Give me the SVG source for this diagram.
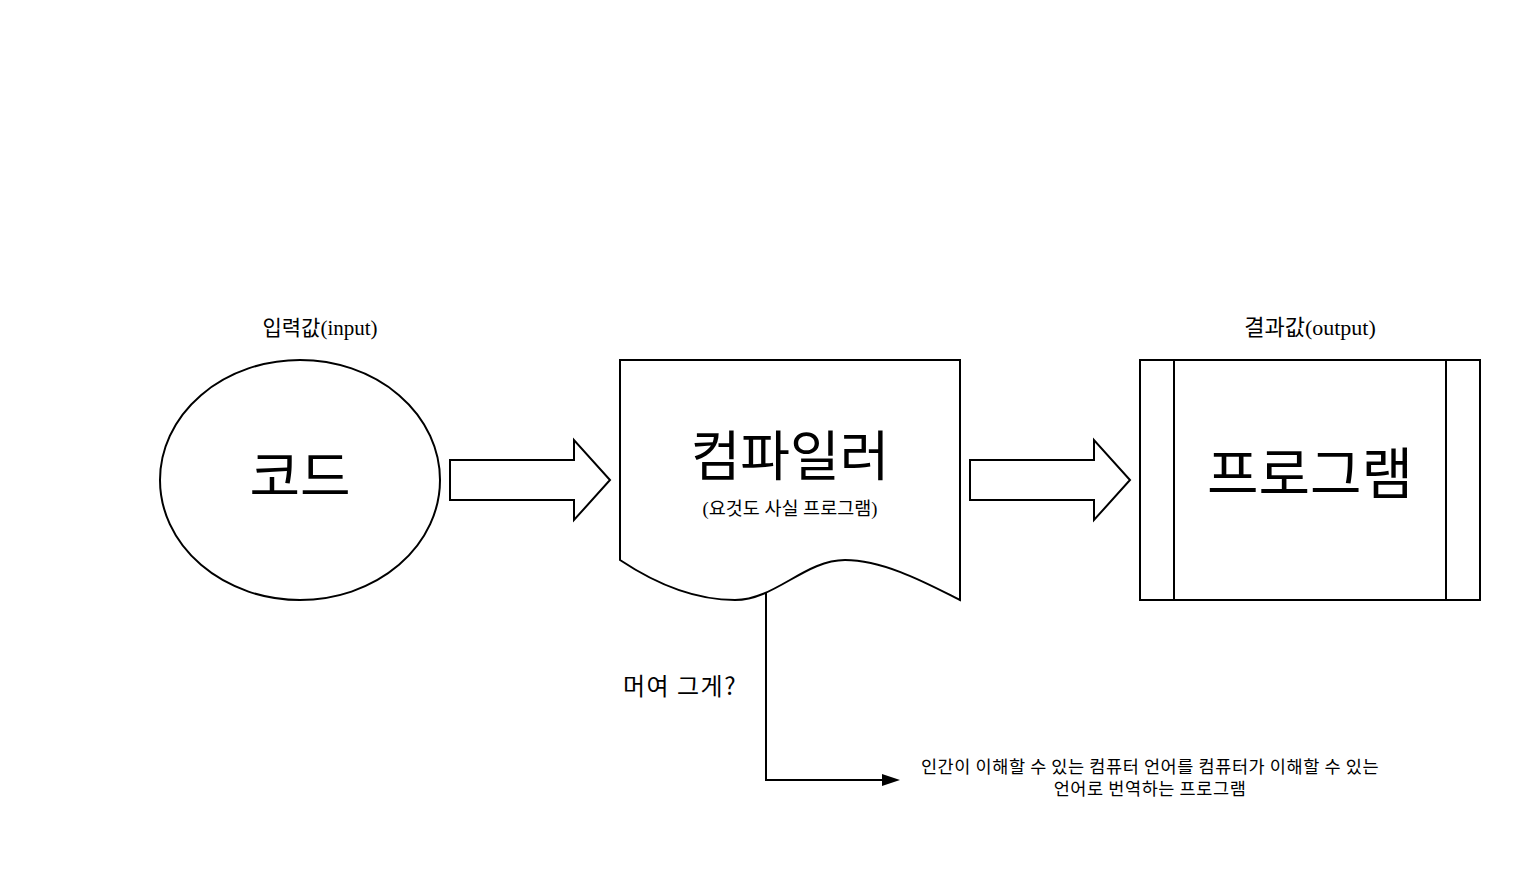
<svg xmlns="http://www.w3.org/2000/svg" width="1520" height="880" viewBox="0 0 1520 880">
<defs>
<style>
.s{fill:#fff;stroke:#000;stroke-width:2}
.ln{fill:none;stroke:#000;stroke-width:2}
.serif{font-family:"Liberation Serif","Noto Sans CJK KR",serif;fill:#000;text-anchor:middle}
.sans{font-family:"Noto Sans CJK KR","Liberation Sans",sans-serif;fill:#000;text-anchor:middle}
</style>
</defs>
<rect width="1520" height="880" fill="#fff"/>
<g id="code">
<ellipse class="s" cx="300" cy="480" rx="140" ry="120"/>
<text class="serif" x="300" y="496" font-size="55">코드</text>
</g>
<g id="input-label"><text class="serif" x="320" y="335" font-size="21">입력값(input)</text></g>
<g id="compiler">
<path class="s" d="M620,360 L960,360 L960,600 C930,585 885,560 845,560 C805,560 775,600 735,600 C690,600 650,580 620,560 Z"/>
<text class="serif" x="790" y="476" font-size="54">컴파일러</text>
<text class="serif" x="790" y="515" font-size="18.5">(요것도 사실 프로그램)</text>
</g>
<g id="program">
<rect class="s" x="1140" y="360" width="340" height="240"/>
<line class="ln" x1="1174" y1="360" x2="1174" y2="600"/>
<line class="ln" x1="1446" y1="360" x2="1446" y2="600"/>
<text class="serif" x="1310" y="494" font-size="56">프로그램</text>
</g>
<g id="output-label"><text class="serif" x="1310" y="335" font-size="22">결과값(output)</text></g>
<g id="question"><text class="sans" x="680" y="695" font-size="24" letter-spacing="1.5">머여 그게?</text></g>
<g id="desc">
<text class="sans" x="1150" y="773" font-size="17.5" letter-spacing="0.6">인간이 이해할 수 있는 컴퓨터 언어를 컴퓨터가 이해할 수 있는</text>
<text class="sans" x="1150" y="795" font-size="17.5" letter-spacing="0.6">언어로 번역하는 프로그램</text>
</g>
<g id="connectors">
<path class="s" d="M450,460 L574,460 L574,440 L610,480 L574,520 L574,500 L450,500 Z"/>
<path class="s" d="M970,460 L1094,460 L1094,440 L1130,480 L1094,520 L1094,500 L970,500 Z"/>
<path class="ln" d="M766,592 L766,780 L882,780"/>
<path d="M882,774 L900,780 L882,786 Z" fill="#000"/>
</g>
</svg>
